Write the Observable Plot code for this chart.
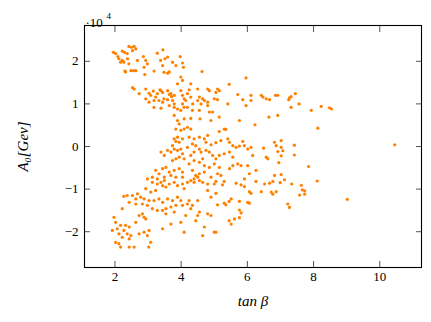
<!DOCTYPE html>
<html>
<head>
<meta charset="utf-8">
<script src="https://cdn.jsdelivr.net/npm/d3@7"></script>
<script src="https://cdn.jsdelivr.net/npm/@observablehq/plot@0.6"></script>
<style>
  html, body { margin: 0; padding: 0; background: white; }
  svg text { font-family: "Liberation Serif", serif; }
</style>
</head>
<body>
<div id="chart"></div>
<script>
// tanβ, A0 (in units of 10^4 GeV)
const upperLeft = [
  [1.95,2.21],[2.02,2.18],[2.09,2.11],[2.22,2.24],[2.29,2.21],[2.42,2.35],[2.50,2.33],[2.58,2.35],
  [2.63,2.29],[2.53,2.25],[2.12,2.06],[2.17,1.98],[2.27,1.98],[2.38,2.06],[2.42,1.94],[2.30,1.77],
  [2.48,1.78],[2.56,1.78],[2.63,1.78],[2.68,2.02],[2.86,2.11],[2.93,2.02],[2.88,1.86],[2.90,1.69],
  [3.18,1.77],[3.28,2.19],[3.45,2.27],[3.38,2.02],[3.44,1.90],[3.51,2.06],[3.59,2.10],[3.74,1.98],
  [3.48,1.74],[3.59,1.72],[3.97,2.11],[4.04,1.96],[4.07,1.86],[3.99,1.63],[4.04,1.55],[4.63,1.76],
  [2.37,2.18],[2.22,2.02],[2.32,1.75],[2.98,1.94],[3.64,1.75],[3.84,1.90],[3.89,1.47],[4.29,1.47]
];
const upperBand = [
  [2.53,1.38],[2.58,1.35],[2.73,1.24],[2.93,1.35],[3.03,1.25],[3.08,1.20],[3.16,1.30],[3.23,1.16],
  [3.28,1.24],[3.36,1.33],[3.44,1.27],[3.48,1.12],[3.59,1.10],[3.64,1.22],[3.71,1.17],[3.74,1.08],
  [3.79,1.00],[4.04,1.00],[4.09,1.12],[4.14,1.08],[4.19,1.24],[4.24,1.33],[4.29,1.16],[4.35,1.00],
  [4.50,1.08],[4.55,1.16],[4.60,1.00],[4.70,1.08],[5.00,1.12],[3.18,1.08],
  [3.69,1.24],[3.79,1.20],[3.99,1.31],[4.04,1.20],[2.93,1.12],[3.03,1.04],[3.33,1.08],[3.44,1.04],
  [4.50,1.35],[4.80,1.35],[4.85,1.31],[4.65,1.12],[4.80,1.04],[3.39,1.31],[3.59,1.31]
];
const upperRight = [
  [5.96,1.61],[5.45,1.46],[5.10,1.35],[5.15,1.31],[5.05,1.27],[5.10,1.10],[5.41,1.00],[5.71,1.22],
  [5.86,1.10],[6.11,1.20],[6.11,1.08],[6.42,1.20],[6.47,1.16],[6.57,1.12],[6.67,1.10],[6.85,1.20],
  [6.92,1.20],[7.27,1.14],[7.32,1.17],[7.45,1.24],[7.56,1.00],[7.32,0.92],[7.93,0.85],[8.23,0.94],
  [8.48,0.91],[8.54,0.88],[6.92,0.73],[8.13,0.43],[10.45,0.04],[7.25,1.10],[7.02,0.14],[6.82,0.10]
];
const rightSide = [
  [6.87,0.02],[7.02,-0.02],[7.07,-0.10],[6.92,-0.12],[7.42,0.03],[7.42,-0.20],[7.02,-0.22],[6.95,-0.38],
  [7.85,-0.47],[7.02,-0.66],[7.12,-0.78],[6.99,-0.85],[7.34,-0.88],[7.63,-0.91],[7.66,-1.02],[7.73,-1.04],
  [7.73,-1.12],[7.58,-1.14],[8.11,-0.81],[7.22,-1.35],[7.27,-1.43],[9.02,-1.24],[6.87,-1.06]
];
const lowerRight = [
  [5.05,-0.82],[5.30,-0.82],[5.25,-0.90],[5.66,-0.86],[5.91,-0.94],[5.81,-0.90],[6.06,-1.06],[6.11,-1.10],
  [6.26,-0.82],[6.42,-1.06],[6.52,-0.88],[6.67,-0.86],[6.77,-0.82],[6.72,-1.07],[6.77,-1.12],[5.05,-1.10],
  [5.10,-1.37],[5.30,-1.33],[5.35,-1.37],[5.45,-1.29],[5.51,-1.23],[5.76,-1.29],[6.01,-1.31],[6.06,-1.33],
  [5.76,-1.49],[5.81,-1.56],[5.76,-1.67],[5.61,-1.70],[5.45,-1.74],[5.51,-1.82],[5.05,-2.01]
];
const centerLeft = [
  [3.18,0.92],[3.39,0.90],[3.64,0.96],[3.79,0.92],[3.89,0.88],[3.99,0.85],[4.09,0.92],[3.79,0.73],
  [3.89,0.61],[4.09,0.65],[3.94,0.53],[3.84,0.41],[3.99,0.38],[4.09,0.41],[3.89,0.22],[3.79,0.18],
  [3.84,0.12],[3.94,0.10],[4.04,0.18],[3.74,0.02],[3.39,-0.13],[3.49,-0.21],[3.59,-0.09],[3.69,-0.13],
  [3.79,-0.06],[3.89,-0.09],[3.99,-0.06],[4.04,-0.17],[3.94,-0.25],[3.84,-0.29],[4.09,-0.29],[3.74,-0.33],
  [3.44,-0.52],[3.54,-0.49],[3.23,-0.56],[3.33,-0.64],[3.64,-0.60],[3.79,-0.56],[3.94,-0.52],[4.04,-0.60],
  [2.98,-0.76],[3.13,-0.72],[3.28,-0.76],[3.49,-0.72],[3.69,-0.68],[3.84,-0.72],[4.04,-0.72]
];
const center = [
  [4.19,0.92],[4.34,0.85],[4.29,0.66],[4.55,0.85],[4.57,0.65],[4.85,0.81],[4.90,0.61],[4.80,0.96],
  [4.95,0.81],[5.15,0.69],[5.96,0.96],[5.76,0.61],[6.65,0.69],[6.23,0.51],[4.19,0.45],[4.29,0.41],
  [5.15,0.35],[5.30,0.41],[5.35,0.40],[4.24,0.22],[4.39,0.18],[4.55,0.22],[4.70,0.18],[4.80,0.26],
  [4.75,0.10],[4.90,0.04],[5.05,0.09],[5.20,0.14],[5.41,0.18],[5.46,0.10],[5.56,0.02],[5.66,-0.02],
  [5.76,0.01],[5.86,0.12],[5.91,0.02],[6.01,-0.06],[6.11,-0.02],[6.49,-0.04],[6.57,-0.25],[6.62,-0.29],
  [4.34,0.06],[4.44,0.02],[4.55,-0.06],[4.60,-0.13],[4.39,-0.13],[4.29,-0.21],[4.19,-0.02],[4.75,-0.09],
  [4.85,-0.13],[4.95,-0.21],[5.05,-0.29],[5.15,-0.21],[5.30,-0.17],[5.46,-0.13],[5.56,-0.25],[5.71,-0.41],
  [5.81,-0.45],[6.01,-0.45],[6.16,-0.21],[6.26,-0.56],[4.24,-0.41],[4.39,-0.33],[4.55,-0.37],[4.65,-0.29],
  [4.70,-0.45],[4.85,-0.49],[5.00,-0.41],[5.15,-0.49],[5.10,-0.64],[5.20,-0.68],[4.34,-0.56],[4.44,-0.68],
  [4.55,-0.64],[4.70,-0.60],[4.90,-0.72],[4.39,-0.76],[4.50,-0.72],[5.91,-0.76],[6.82,-0.68],[6.06,-0.64],
  [5.46,-0.52],[5.56,-0.45]
];
const lowerLeft = [
  [3.13,-0.84],[3.28,-0.88],[3.39,-0.84],[3.49,-0.80],[3.44,-0.92],[3.54,-0.95],[3.64,-0.88],[3.79,-0.84],
  [3.89,-0.92],[4.04,-0.88],[4.09,-0.99],[2.93,-0.99],[3.08,-1.07],[3.23,-1.03],[2.68,-1.11],[2.53,-1.15],
  [2.37,-1.15],[2.27,-1.17],[2.63,-1.23],[2.78,-1.19],[2.88,-1.23],[3.03,-1.27],[3.18,-1.27],[3.33,-1.23],
  [3.44,-1.31],[3.59,-1.23],[3.74,-1.27],[3.89,-1.19],[3.99,-1.27],[4.04,-1.38],[3.84,-1.38],[3.69,-1.42],
  [3.54,-1.46],[3.44,-1.50],[3.28,-1.50],[3.13,-1.46],[2.98,-1.38],[2.83,-1.35],[2.43,-1.31],[2.63,-1.35],
  [2.22,-1.46],[2.73,-1.62],[2.83,-1.58],[2.88,-1.66],[2.93,-1.70],[2.63,-1.78],[1.97,-1.66],[2.02,-1.78],
  [1.92,-1.97],[2.07,-1.93],[2.17,-1.85],[2.32,-1.85],[2.43,-1.89],[2.27,-1.97],[2.12,-2.05],[2.37,-2.05],
  [2.48,-2.09],[2.22,-2.13],[2.02,-2.25],[2.12,-2.28],[2.17,-2.36],[2.43,-2.17],[2.73,-2.05],[2.88,-2.01],
  [2.98,-2.09],[3.03,-1.97],[3.08,-2.25],[2.43,-2.36],[2.58,-2.36],[3.44,-1.93],[3.69,-1.82],[3.99,-1.78],
  [4.09,-2.01],[3.02,-2.36],[3.54,-1.58],[3.79,-1.54]
];
const lowerMid = [
  [4.19,-0.84],[4.29,-0.80],[4.39,-0.84],[4.55,-0.80],[4.65,-0.84],[4.80,-0.88],[5.00,-0.88],[4.80,-1.03],
  [4.90,-1.19],[4.50,-1.27],[4.24,-1.27],[4.34,-1.38],[4.29,-1.46],[4.19,-1.35],[4.55,-1.54],[4.50,-1.62],
  [4.44,-1.74],[4.14,-1.62],[4.90,-1.62],[4.80,-1.58],[4.70,-1.89],[4.65,-2.09],[5.00,-2.01]
];

const xTicks = [2, 4, 6, 8, 10];
const yTicks = [-2, -1, 0, 1, 2];
const xLabel = "tan β";
const yLabel = "A₀[Gev]";

const points = [...upperLeft, ...upperBand, ...upperRight, ...rightSide, ...lowerRight,
  ...centerLeft, ...center, ...lowerLeft, ...lowerMid].map(([t, a]) => ({t, a}));

const font = "Liberation Serif";
const fmt = d3.format("d");

const chart = Plot.plot({
  width: 431,
  height: 322,
  marginLeft: 84,
  marginRight: 10,
  marginTop: 25,
  marginBottom: 55,
  style: {fontFamily: font, fontSize: "12px", background: "white", color: "black"},
  x: {domain: [1.08, 11.26]},
  y: {domain: [-2.84, 2.84]},
  marks: [
    Plot.dot(points, {x: "t", y: "a", r: 1.6, fill: "#ff8000", stroke: "none"}),
    Plot.axisX({ticks: xTicks, anchor: "bottom", tickSize: -6, tickFormat: () => "", label: null, stroke: "#555"}),
    Plot.axisX({ticks: xTicks, anchor: "top", tickSize: -6, tickFormat: () => "", label: null, stroke: "#555"}),
    Plot.axisY({ticks: yTicks, anchor: "left", tickSize: -6, tickFormat: () => "", label: null, stroke: "#555"}),
    Plot.axisY({ticks: yTicks, anchor: "right", tickSize: -6, tickFormat: () => "", label: null, stroke: "#555"}),
    Plot.axisX({ticks: xTicks, anchor: "bottom", tickSize: 0, tickPadding: 4, tickFormat: fmt, label: null, fontSize: 13, fontFamily: font}),
    Plot.axisY({ticks: yTicks, anchor: "left", tickSize: 0, tickPadding: 6, tickFormat: fmt, label: null, fontSize: 13, fontFamily: font}),
    Plot.axisX({ticks: [], anchor: "bottom", tickSize: 0, label: xLabel, labelAnchor: "center", labelArrow: "none", labelOffset: 38, fontStyle: "italic", fontSize: 15, fontFamily: font}),
    Plot.axisY({ticks: [], anchor: "left", tickSize: 0, label: yLabel, labelAnchor: "center", labelArrow: "none", labelOffset: 67, fontStyle: "italic", fontSize: 15, fontFamily: font}),
    Plot.frame({stroke: "black", strokeWidth: 1.1}),
    Plot.text(["·10"], {frameAnchor: "top-left", dx: 1, dy: -8, textAnchor: "start", fontSize: 13, fontFamily: font}),
    Plot.text(["4"], {frameAnchor: "top-left", dx: 22, dy: -13, textAnchor: "start", fontSize: 9, fontFamily: font})
  ]
});

document.getElementById("chart").appendChild(chart);
</script>
</body>
</html>
